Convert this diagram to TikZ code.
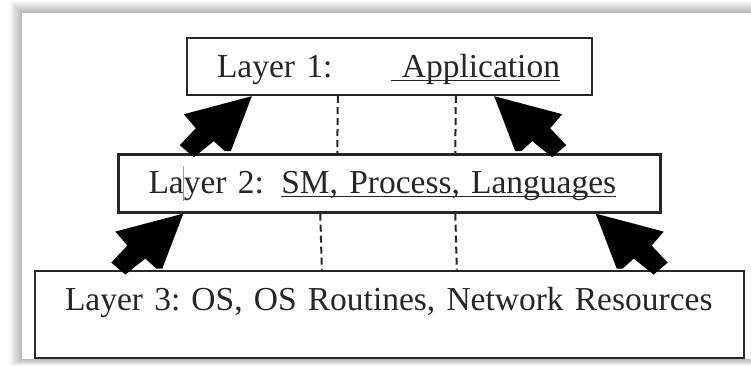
\documentclass[tikz,border=0pt]{standalone}
\usepackage{fontspec}
\setmainfont{Liberation Serif}
\usetikzlibrary{positioning,calc}
\newsavebox\ulbox
\newcommand{\layerul}[1]{\sbox\ulbox{#1}\rlap{\rule[-3.5pt]{\wd\ulbox}{1.4pt}}\usebox\ulbox}

\begin{document}
\begin{tikzpicture}[x=1pt, y=-1pt, node distance=57pt,
    layerbox/.style={draw=black!85, line width=2.4pt, fill=white, text=black!85, align=left, inner xsep=30pt, inner ysep=0pt, text height=39.5pt, text depth=17.5pt, font=\fontsize{33.5}{40}\selectfont\frenchspacing},
    divider/.style={draw=black!85, line width=2pt, dash pattern=on 7pt off 4pt},
    pointer/.pic={\fill[black] (0,0) -- (-68,18) -- (-56,32) -- (-72,49) -- (-58,61) -- (-38,45) -- (-27,55) -- (-21,55) -- cycle;}]
    \fill[white] (0,0) rectangle (751,366);
    \clip (0,0) rectangle (751,366);
    \foreach \s in {1,...,12}
        \fill[black, opacity=0.022] (22-\s,13-\s) rectangle (790,359+0.6*\s);
    \fill[white] (22,13) rectangle (790,359);

    \node[layerbox, text width=345pt] (layer1) at (389.5,66.5) {Layer 1:\hspace{58.5pt}\layerul{\hspace{11pt}Application}};
    \node[layerbox, text width=482pt, text depth=18.5pt] (layer2) [below=of layer1] {Layer 2:\hspace{17.5pt}\layerul{SM, Process, Languages}};
    \node[layerbox, text width=649pt, text depth=47.5pt] (layer3) [below=56pt of layer2] {Layer 3: OS, OS Routines, Network Resources};

    \draw[divider] ([xshift=152pt]layer1.south west) -- ([xshift=220pt]layer2.north west);
    \draw[divider] ([xshift=270pt]layer1.south west) -- ([xshift=338pt]layer2.north west);
    \draw[divider] ([xshift=203pt]layer2.south west) -- ([xshift=288pt]layer3.north west);
    \draw[divider] ([xshift=338pt]layer2.south west) -- ([xshift=423pt]layer3.north west);

    \pic at ([xshift=66pt]layer1.south west) {pointer};
    \pic[xscale=-1] at ([xshift=-99pt]layer1.south east) {pointer};
    \pic at ([xshift=66pt]layer2.south west) {pointer};
    \pic[xscale=-1] at ([xshift=-66pt]layer2.south east) {pointer};

    \draw[black!40, line width=0.7pt] ($(layer2.north west)+(66,13)$) -- +(0,35);
\end{tikzpicture}
\end{document}
